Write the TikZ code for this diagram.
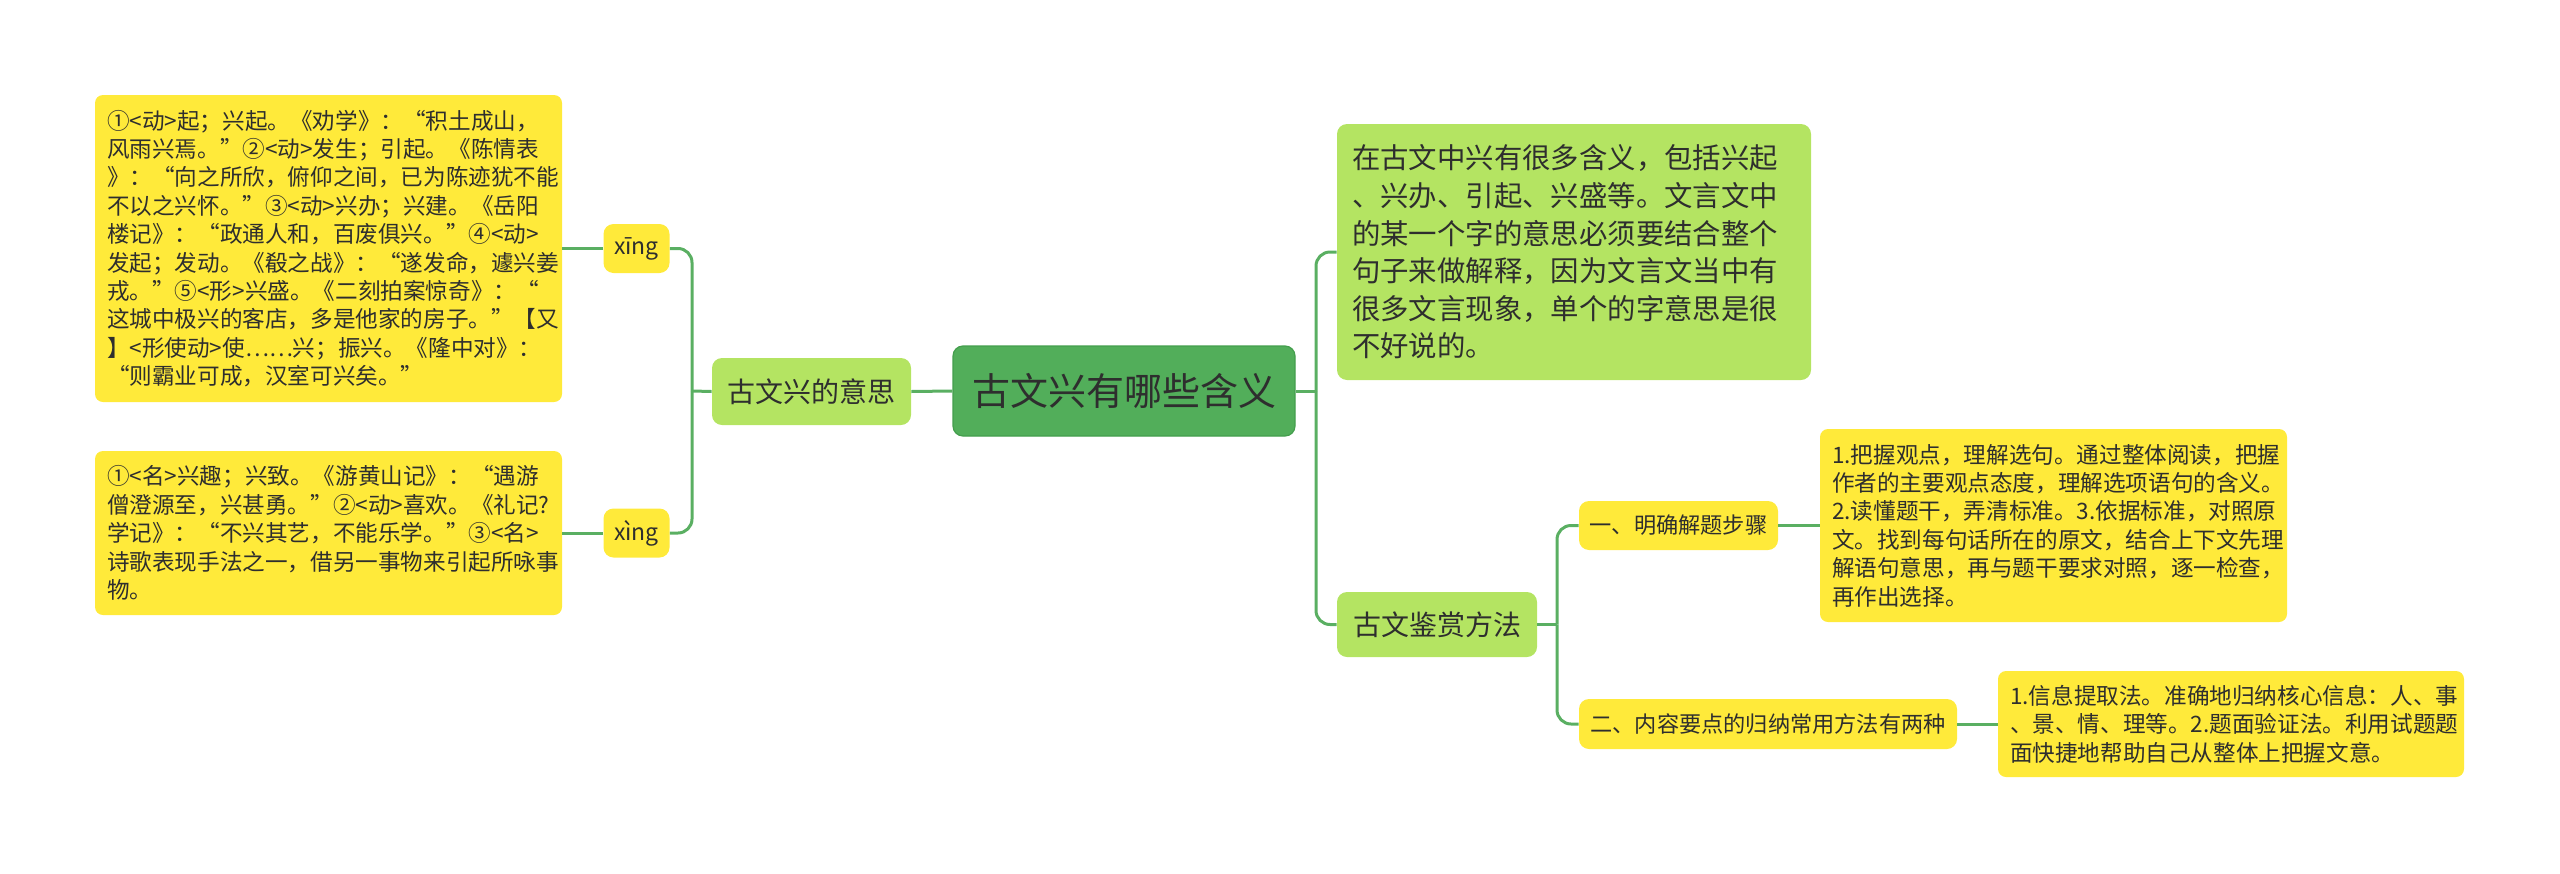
\documentclass[tikz,border=0pt]{standalone}
\usepackage{fontspec}
\setmainfont{Noto Sans CJK SC}
\usepackage{tikz}
\definecolor{rootgreen}{HTML}{52AE5A}
\definecolor{rootedge}{HTML}{449E4D}
\definecolor{lgreen}{HTML}{B4E462}
\definecolor{leafyellow}{HTML}{FFEA3A}
\definecolor{linkgreen}{HTML}{5AAF62}
\definecolor{ink}{HTML}{2E2E2E}
\tikzset{
  root/.style={draw=rootedge,line width=0.6pt,fill=rootgreen,rounded corners=5pt,
    text=ink,inner sep=0pt,font=\fontsize{19}{22}\selectfont},
  topic/.style={fill=lgreen,rounded corners=5pt,text=ink,inner sep=0pt,
    font=\fontsize{14}{17}\selectfont},
  sub/.style={fill=leafyellow,rounded corners=5pt,text=ink,inner sep=0pt,
    font=\fontsize{11.1}{13}\selectfont},
  leaf/.style={fill=leafyellow,rounded corners=4pt,text=ink,align=left,
    inner xsep=6pt,inner ysep=0pt,font=\fontsize{11.3}{14.2}\selectfont},
  link/.style={draw=linkgreen,line width=1.5pt},
  elbow/.style={link,rounded corners=7pt},
}
\begin{document}
\begin{tikzpicture}[x=0.5pt,y=-0.5pt]
        \useasboundingbox (0,0) rectangle (2560,873);
        % centre and topics
        \node[root, minimum width=171pt, minimum height=45pt] (root) at (1124,391) {古文兴有哪些含义};
        \node[topic, minimum width=99.5pt, minimum height=33.5pt] (mean) at (811.5,391.5) {古文兴的意思};
        \node[topic, align=left, text width=222pt, inner xsep=7.5pt, minimum height=128pt,
            font=\fontsize{14.2}{18.8}\selectfont] (desc) at (1574,252) {在古文中兴有很多含义，包括兴起\\、兴办、引起、兴盛等。文言文中\\的某一个字的意思必须要结合整个\\句子来做解释，因为文言文当中有\\很多文言现象，单个的字意思是很\\不好说的。};
        \node[topic, minimum width=100pt, minimum height=32.5pt] (method) at (1437,624.5) {古文鉴赏方法};
        % left branch
        \node[sub, minimum width=33pt, minimum height=24.5pt, font=\fontsize{11.5}{13}\selectfont] (xing1) at (636.5,248.5) {xīng};
        \node[sub, minimum width=33pt, minimum height=24.5pt, font=\fontsize{11.5}{13}\selectfont] (xing2) at (636.5,533) {xìng};
        \node[leaf, text width=221.5pt, minimum height=153.5pt] (leafA) at (328.5,248.5) {①<动>起；兴起。《劝学》：“积土成山，\\风雨兴焉。”②<动>发生；引起。《陈情表\\》：“向之所欣，俯仰之间，已为陈迹犹不能\\不以之兴怀。”③<动>兴办；兴建。《岳阳\\楼记》：“政通人和，百废俱兴。”④<动>\\发起；发动。《殽之战》：“遂发命，遽兴姜\\戎。”⑤<形>兴盛。《二刻拍案惊奇》：“\\这城中极兴的客店，多是他家的房子。”【又\\】<形使动>使……兴；振兴。《隆中对》：\\“则霸业可成，汉室可兴矣。”};
        \node[leaf, text width=221.5pt, minimum height=82pt] (leafB) at (328.5,533) {①<名>兴趣；兴致。《游黄山记》：“遇游\\僧澄源至，兴甚勇。”②<动>喜欢。《礼记?\\学记》：“不兴其艺，不能乐学。”③<名>\\诗歌表现手法之一，借另一事物来引起所咏事\\物。};
        % right branch
        \node[sub, minimum width=99.5pt, minimum height=24.5pt] (step1) at (1678.5,525.5) {一、明确解题步骤};
        \node[sub, minimum width=189pt, minimum height=25pt] (step2) at (1768,724) {二、内容要点的归纳常用方法有两种};
        \node[leaf, text width=221.5pt, minimum height=96.5pt] (leafC) at (2053.5,525.5) {1.把握观点，理解选句。通过整体阅读，把握\\作者的主要观点态度，理解选项语句的含义。\\2.读懂题干，弄清标准。3.依据标准，对照原\\文。找到每句话所在的原文，结合上下文先理\\解语句意思，再与题干要求对照，逐一检查，\\再作出选择。};
        \node[leaf, text width=221pt, minimum height=53pt] (leafD) at (2231,724) {1.信息提取法。准确地归纳核心信息：人、事\\、景、情、理等。2.题面验证法。利用试题题\\面快捷地帮助自己从整体上把握文意。};
        % junctions
        \coordinate (jl) at (692,391);
        \coordinate (jr) at (1316,391);
        \coordinate (jm) at (1557,624.5);
        % connectors
        \draw[link] (root.west) -- (mean.east);
        \draw[link] (mean.west) -- (jl);
        \draw[elbow] (jl) |- (xing1.east);
        \draw[elbow] (jl) |- (xing2.east);
        \draw[link] (xing1.west) -- (leafA.east);
        \draw[link] (xing2.west) -- (leafB.east);
        \draw[link] (root.east) -- (jr);
        \draw[elbow] (jr) |- (desc.west);
        \draw[elbow] (jr) |- (method.west);
        \draw[link] (method.east) -- (jm);
        \draw[elbow] (jm) |- (step1.west);
        \draw[elbow] (jm) |- (step2.west);
        \draw[link] (step1.east) -- (leafC.west);
        \draw[link] (step2.east) -- (leafD.west);
\end{tikzpicture}
\end{document}
